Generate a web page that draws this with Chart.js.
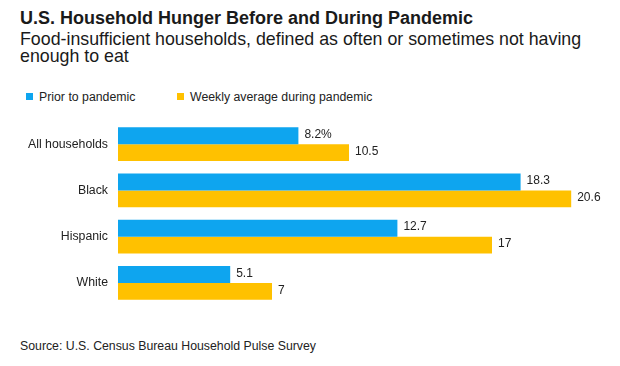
<!DOCTYPE html>
<html>
<head>
<meta charset="utf-8">
<script src="https://cdn.jsdelivr.net/npm/chart.js@4/dist/chart.umd.min.js"></script>
<style>
  html, body { margin: 0; padding: 0; background: #fff; }
  body { width: 620px; height: 366px; position: relative; overflow: hidden;
         font-family: "Liberation Sans", Arial, sans-serif; color: #1a1a1a; }
  #title { position: absolute; left: 20px; top: 8px; font-size: 18px; font-weight: bold; }
  #subtitle { position: absolute; left: 20px; top: 31px; font-size: 17.8px; line-height: 17px; }
  #legend { position: absolute; left: 26px; top: 90px; font-size: 12.3px; color: #222; }
  #legend span { position: absolute; white-space: nowrap; top: 0; }
  #legend i { display: inline-block; width: 7px; height: 7px; margin-right: 6px; vertical-align: 1px; }
  #source { position: absolute; left: 20px; top: 339px; font-size: 12.3px; color: #222; }
  #wrap { position: absolute; left: 0; top: 118px; width: 620px; height: 192px; }
</style>
</head>
<body>
<div id="title">U.S. Household Hunger Before and During Pandemic</div>
<div id="subtitle">Food-insufficient households, defined as often or sometimes not having<br>enough to eat</div>
<div id="legend"></div>
<div id="wrap"><canvas id="chart"></canvas></div>
<div id="source">Source: U.S. Census Bureau Household Pulse Survey</div>
<script>
// ── data ──
const categories   = ['All households', 'Black', 'Hispanic', 'White'];
const priorValues  = [8.2, 18.3, 12.7, 5.1];
const duringValues = [10.5, 20.6, 17, 7];
const priorLabels  = ['8.2%', '18.3', '12.7', '5.1'];
const duringLabels = ['10.5', '20.6', '17', '7'];
const seriesNames  = ['Prior to pandemic', 'Weekly average during pandemic'];

const BLUE = '#0ea5ef';
const YELLOW = '#ffc100';
const FONT = '"Liberation Sans", Arial, sans-serif';

// legend (html, positioned like the original)
const legendEl = document.getElementById('legend');
[[seriesNames[0], BLUE, 0], [seriesNames[1], YELLOW, 151]].forEach(([name, col, x]) => {
  const s = document.createElement('span');
  s.style.left = x + 'px';
  s.innerHTML = '<i style="background:' + col + '"></i>' + name;
  legendEl.appendChild(s);
});

// value labels at bar ends
const barValueLabels = {
  id: 'barValueLabels',
  afterDatasetsDraw(chart) {
    const ctx = chart.ctx;
    const texts = [priorLabels, duringLabels];
    ctx.save();
    ctx.font = '12px ' + FONT;
    ctx.fillStyle = '#222';
    ctx.textBaseline = 'middle';
    chart.data.datasets.forEach((ds, di) => {
      chart.getDatasetMeta(di).data.forEach((bar, i) => {
        ctx.fillText(texts[di][i], bar.x + 6, bar.y - 1);
      });
    });
    ctx.restore();
  }
};

new Chart(document.getElementById('chart'), {
  type: 'bar',
  data: {
    labels: categories,
    datasets: [
      { label: seriesNames[0], data: priorValues, backgroundColor: BLUE },
      { label: seriesNames[1], data: duringValues, backgroundColor: YELLOW }
    ]
  },
  options: {
    indexAxis: 'y',
    responsive: true, maintainAspectRatio: false, animation: false,
    datasets: { bar: { barPercentage: 1, categoryPercentage: 0.73 } },
    layout: { padding: { top: 3, right: 18, bottom: 4, left: 0 } },
    plugins: {
      tooltip: { enabled: false },
      legend: { display: false }
    },
    scales: {
      x: { min: 0, max: 22, display: false },
      y: {
        grid: { display: false, drawTicks: false }, border: { display: false },
        // fixed axis width; drop the label padding chart.js adds above/below
        afterFit: s => { s.width = 118; s.paddingTop = 0; s.paddingBottom = 0; },
        ticks: { padding: 10, color: '#222', font: { family: FONT, size: 12.3 } }
      }
    }
  },
  plugins: [barValueLabels]
});
</script>
</body>
</html>
